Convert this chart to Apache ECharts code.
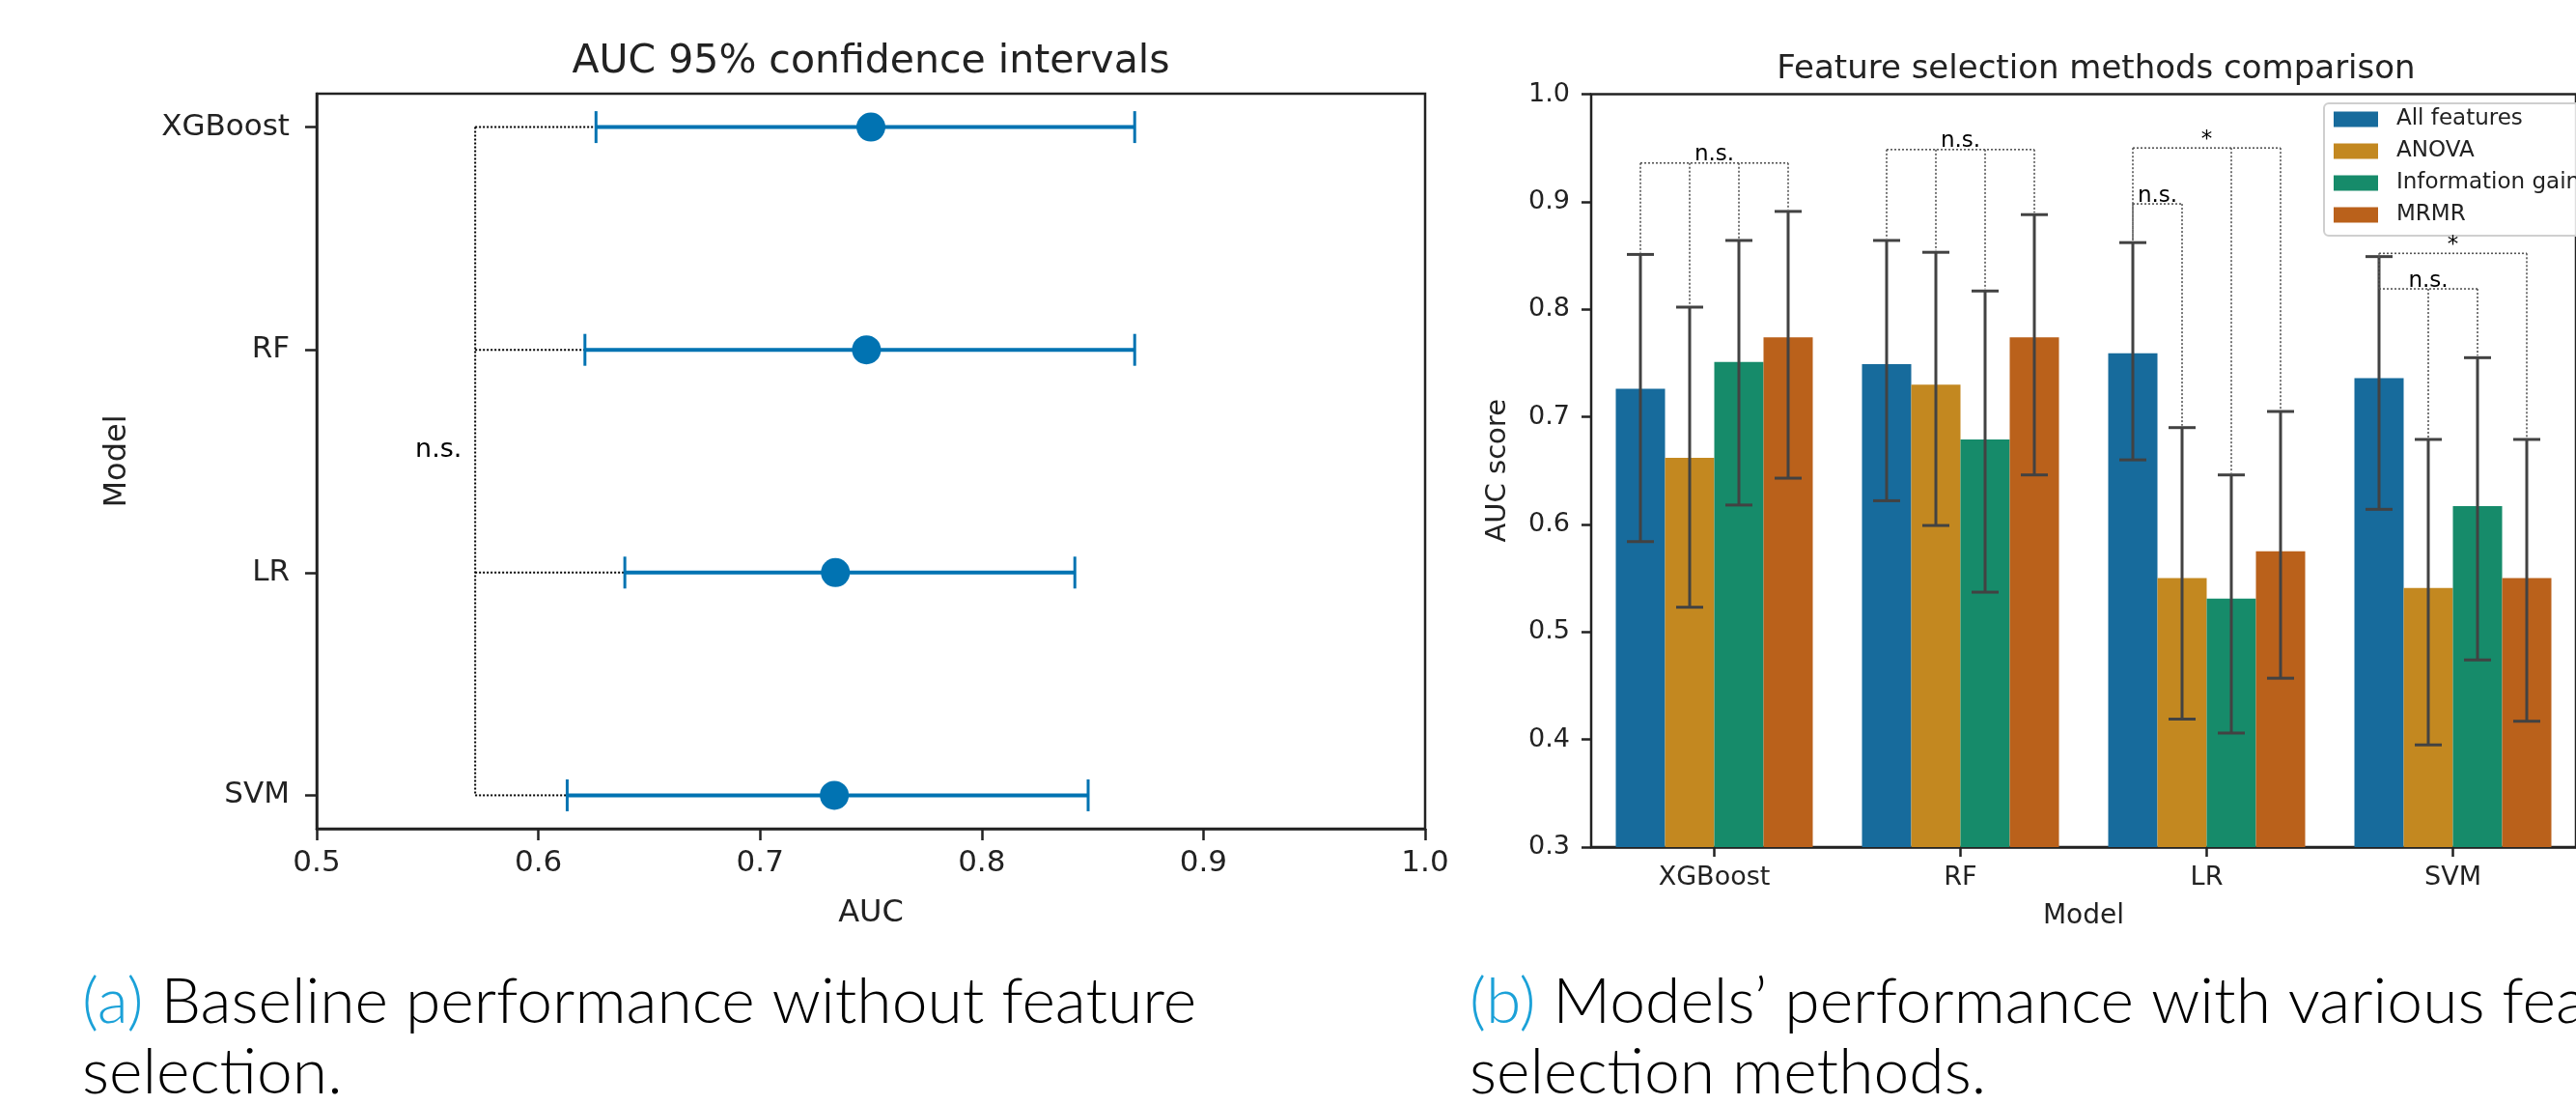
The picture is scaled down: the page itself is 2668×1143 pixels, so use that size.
<!DOCTYPE html>
<html>
<head>
<meta charset="utf-8">
<script src="https://cdn.jsdelivr.net/npm/echarts@6/dist/echarts.min.js"></script>
<style>
html,body{margin:0;padding:0;background:#fff;overflow:hidden;}
#chart{width:2668px;height:1143px;}
</style>
</head>
<body>
<div id="chart"></div>
<script>
// ---------- data ----------
const models = ['XGBoost', 'RF', 'LR', 'SVM'];
// (a) baseline AUC with 95% CI
const baseAuc  = [0.750, 0.748, 0.734, 0.7335];
const baseLow  = [0.626, 0.621, 0.639, 0.613];
const baseHigh = [0.869, 0.869, 0.842, 0.848];
const baseBracketX = 0.5715;
const baseBracketLabel = 'n.s.';
const baseLabelPos = [0.555, 1.45];
const xTicksA = [0.5, 0.6, 0.7, 0.8, 0.9, 1.0];

// (b) feature selection methods
const methods = ['All features', 'ANOVA', 'Information gain', 'MRMR'];
const aucAll   = [0.726, 0.749, 0.759, 0.736];
const aucAnova = [0.662, 0.730, 0.550, 0.541];
const aucInfo  = [0.751, 0.679, 0.531, 0.617];
const aucMrmr  = [0.774, 0.774, 0.575, 0.550];
const lowAll   = [0.584, 0.622, 0.660, 0.614];
const highAll  = [0.851, 0.864, 0.862, 0.849];
const lowAnova = [0.523, 0.599, 0.419, 0.395];
const highAnova= [0.802, 0.853, 0.690, 0.679];
const lowInfo  = [0.618, 0.537, 0.406, 0.474];
const highInfo = [0.864, 0.817, 0.646, 0.755];
const lowMrmr  = [0.643, 0.646, 0.457, 0.417];
const highMrmr = [0.891, 0.888, 0.705, 0.679];

// significance brackets for (b)
const bracketModel   = [0, 1, 2, 2, 3, 3];
const bracketMembers = [[0,1,2,3], [0,1,2,3], [0,2,3], [0,1], [0,3], [0,1,2]];
const bracketLevel   = [0.936, 0.9485, 0.950, 0.898, 0.852, 0.819];
const bracketLabel   = ['n.s.', 'n.s.', '*', 'n.s.', '*', 'n.s.'];

// ---------- styling ----------
const barColors = ['#176B9C', '#C38820', '#168B6A', '#BA611B'];
const blue = '#0173B2';
const FONT = 'DejaVu Sans';
const ink = '#222';

const means = [aucAll, aucAnova, aucInfo, aucMrmr];
const lows  = [lowAll, lowAnova, lowInfo, lowMrmr];
const highs = [highAll, highAnova, highInfo, highMrmr];

const chart = echarts.init(document.getElementById('chart'), null, {renderer: 'canvas'});

function errRender(mi) {
  return function (params, api) {
    const cat = api.value(0);
    const lo = api.coord([cat, api.value(2)]);
    const hi = api.coord([cat, api.value(3)]);
    const bw = api.size([1, 0])[0];
    const x = lo[0] + (mi - 1.5) * bw * 0.2;
    const st = {stroke: '#424242', lineWidth: 3};
    return {type: 'group', children: [
      {type: 'line', shape: {x1: x, y1: lo[1], x2: x, y2: hi[1]}, style: st},
      {type: 'line', shape: {x1: x - 14, y1: lo[1], x2: x + 14, y2: lo[1]}, style: st},
      {type: 'line', shape: {x1: x - 14, y1: hi[1], x2: x + 14, y2: hi[1]}, style: st}
    ]};
  };
}

function bracketRender(params, api) {
  const i = params.dataIndex;
  const cat = bracketModel[i];
  const lvl = api.coord([cat, bracketLevel[i]]);
  const bw = api.size([1, 0])[0];
  const st = {stroke: '#555', lineWidth: 1.6, lineDash: [2, 2]};
  const children = [];
  let xmin = Infinity, xmax = -Infinity;
  bracketMembers[i].forEach(function (m) {
    const x = lvl[0] + (m - 1.5) * bw * 0.2;
    const top = api.coord([cat, highs[m][cat]]);
    children.push({type: 'line', shape: {x1: x, y1: lvl[1], x2: x, y2: top[1] - 2}, style: st});
    xmin = Math.min(xmin, x); xmax = Math.max(xmax, x);
  });
  children.push({type: 'line', shape: {x1: xmin, y1: lvl[1], x2: xmax, y2: lvl[1]}, style: st});
  children.push({type: 'text', style: {text: bracketLabel[i], x: (xmin + xmax) / 2, y: lvl[1] + 3,
    align: 'center', verticalAlign: 'bottom', font: '23px ' + FONT, fill: '#000'}});
  return {type: 'group', children: children};
}

function ciRender(params, api) {
  const y = api.value(1);
  const lo = api.coord([api.value(2), y]);
  const hi = api.coord([api.value(3), y]);
  const st = {stroke: blue, lineWidth: 4};
  return {type: 'group', children: [
    {type: 'line', shape: {x1: lo[0], y1: lo[1], x2: hi[0], y2: hi[1]}, style: st},
    {type: 'line', shape: {x1: lo[0], y1: lo[1] - 16.5, x2: lo[0], y2: lo[1] + 16.5}, style: {stroke: blue, lineWidth: 3}},
    {type: 'line', shape: {x1: hi[0], y1: hi[1] - 16.5, x2: hi[0], y2: hi[1] + 16.5}, style: {stroke: blue, lineWidth: 3}}
  ]};
}

function baseBracketRender(params, api) {
  const i = params.dataIndex;
  const st = {stroke: '#000', lineWidth: 2, lineDash: [2, 2]};
  const a = api.coord([baseBracketX, i]);
  const b = api.coord([baseLow[i], i]);
  const children = [{type: 'line', shape: {x1: a[0], y1: a[1], x2: b[0], y2: b[1]}, style: st}];
  if (i === 0) {
    const bottom = api.coord([baseBracketX, models.length - 1]);
    children.push({type: 'line', shape: {x1: a[0], y1: a[1], x2: bottom[0], y2: bottom[1]}, style: st});
    const lp = api.coord(baseLabelPos);
    children.push({type: 'text', style: {text: baseBracketLabel, x: lp[0], y: lp[1],
      align: 'center', verticalAlign: 'middle', font: '27px ' + FONT, fill: '#000'}});
  }
  return {type: 'group', children: children};
}

const series = [];
// (a)
series.push({type: 'custom', name: 'ci', xAxisIndex: 0, yAxisIndex: 0, z: 3,
  data: models.map(function (m, i) { return [baseAuc[i], i, baseLow[i], baseHigh[i]]; }),
  encode: {x: 0, y: 1}, renderItem: ciRender, silent: true});
series.push({type: 'custom', name: 'bracketA', xAxisIndex: 0, yAxisIndex: 0, z: 2,
  data: models.map(function (m, i) { return [baseBracketX, i]; }),
  encode: {x: 0, y: 1}, renderItem: baseBracketRender, silent: true});
series.push({type: 'scatter', name: 'auc', xAxisIndex: 0, yAxisIndex: 0, z: 4,
  symbolSize: 30, itemStyle: {color: blue, opacity: 1},
  data: models.map(function (m, i) { return [baseAuc[i], i]; })});
// (b)
methods.forEach(function (name, mi) {
  series.push({type: 'bar', name: name, xAxisIndex: 1, yAxisIndex: 1,
    barWidth: '20%', barGap: '0%', itemStyle: {color: barColors[mi]},
    data: means[mi]});
});
methods.forEach(function (name, mi) {
  series.push({type: 'custom', name: 'err' + mi, xAxisIndex: 1, yAxisIndex: 1, z: 5, silent: true,
    data: models.map(function (m, ci) { return [ci, means[mi][ci], lows[mi][ci], highs[mi][ci]]; }),
    encode: {x: 0, y: 1}, renderItem: errRender(mi)});
});
series.push({type: 'custom', name: 'brackets', xAxisIndex: 1, yAxisIndex: 1, z: 5, silent: true,
  data: bracketModel.map(function (c, i) { return [c, bracketLevel[i]]; }),
  encode: {x: 0, y: 1}, renderItem: bracketRender});

const axisLineStyle = {onZero: false, lineStyle: {color: ink, width: 2.5}};

const option = {
  animation: false,
  backgroundColor: '#fff',
  textStyle: {fontFamily: FONT},
  grid: [
    {left: 328, top: 97, width: 1148, height: 761, show: true, borderColor: ink, borderWidth: 2.5, backgroundColor: 'transparent'},
    {left: 1648, top: 97.5, width: 1046, height: 779.5, show: true, borderColor: ink, borderWidth: 2.5, backgroundColor: 'transparent'}
  ],
  xAxis: [
    {type: 'value', gridIndex: 0, min: 0.5, max: 1.0, interval: 0.1,
      axisLine: axisLineStyle, splitLine: {show: false},
      axisTick: {show: true, length: 12, lineStyle: {color: ink, width: 2.5}},
      axisLabel: {fontSize: 31, color: ink, margin: 20, fontFamily: FONT,
        formatter: function (v) { return v.toFixed(1); }},
      name: 'AUC', nameLocation: 'middle', nameGap: 72,
      nameTextStyle: {fontSize: 32, color: ink, fontFamily: FONT}},
    {type: 'category', gridIndex: 1, data: models,
      axisLine: axisLineStyle,
      axisTick: {show: true, alignWithLabel: true, length: 10, lineStyle: {color: ink, width: 2.5}},
      axisLabel: {fontSize: 27, color: ink, margin: 18, fontFamily: FONT},
      name: 'Model', nameLocation: 'middle', nameGap: 58,
      nameTextStyle: {fontSize: 28, color: ink, fontFamily: FONT}}
  ],
  yAxis: [
    {type: 'value', gridIndex: 0, min: -0.15, max: 3.15, inverse: true,
      axisLine: axisLineStyle, splitLine: {show: false},
      axisTick: {show: true, length: 12, customValues: [0, 1, 2, 3], lineStyle: {color: ink, width: 2.5}},
      axisLabel: {fontSize: 31, color: ink, margin: 28, fontFamily: FONT, customValues: [0, 1, 2, 3],
        formatter: function (v) { return models[Math.round(v)] || ''; }},
      name: 'Model', nameLocation: 'middle', nameGap: 190, nameRotate: 90,
      nameTextStyle: {fontSize: 32, color: ink, fontFamily: FONT}},
    {type: 'value', gridIndex: 1, min: 0.3, max: 1.0, interval: 0.1,
      axisLine: axisLineStyle, splitLine: {show: false},
      axisTick: {show: true, length: 10, lineStyle: {color: ink, width: 2.5}},
      axisLabel: {fontSize: 27, color: ink, margin: 22, fontFamily: FONT,
        formatter: function (v) { return v.toFixed(1); }},
      name: 'AUC score', nameLocation: 'middle', nameGap: 82, nameRotate: 90,
      nameTextStyle: {fontSize: 29, color: ink, fontFamily: FONT}}
  ],
  legend: {
    data: methods, orient: 'vertical', left: 2407, top: 107,
    icon: 'rect', itemWidth: 46, itemHeight: 16, itemGap: 10,
    backgroundColor: 'rgba(255,255,255,0.85)', borderColor: '#cfcfcf', borderWidth: 2, borderRadius: 5,
    padding: [5, 10, 10, 10],
    textStyle: {fontSize: 23, lineHeight: 23, color: ink, fontFamily: FONT, padding: [0, 0, 0, 14]}
  },
  graphic: [
    {type: 'text', x: 902, y: 64, silent: true,
      style: {text: 'AUC 95% confidence intervals', font: '41px ' + FONT, fill: ink, align: 'center', verticalAlign: 'middle'}},
    {type: 'text', x: 2171, y: 72, silent: true,
      style: {text: 'Feature selection methods comparison', font: '34px ' + FONT, fill: ink, align: 'center', verticalAlign: 'middle'}},
    {type: 'text', x: 85, y: 1038, silent: true,
      style: {text: '{c|(a)} Baseline performance without feature', font: '300 66px Lato', fill: '#000', verticalAlign: 'middle',
        rich: {c: {fill: '#1BA1D8', font: '300 66px Lato'}}}},
    {type: 'text', x: 85, y: 1111, silent: true,
      style: {text: 'selection.', font: '300 66px Lato', fill: '#000', verticalAlign: 'middle'}},
    {type: 'text', x: 1522, y: 1038, silent: true,
      style: {text: '{c|(b)} Models\u2019 performance with various feature', font: '300 66px Lato', fill: '#000', verticalAlign: 'middle',
        rich: {c: {fill: '#1BA1D8', font: '300 66px Lato'}}}},
    {type: 'text', x: 1522, y: 1111, silent: true,
      style: {text: 'selection methods.', font: '300 66px Lato', fill: '#000', verticalAlign: 'middle'}}
  ],
  series: series
};
chart.setOption(option);
</script>
</body>
</html>
